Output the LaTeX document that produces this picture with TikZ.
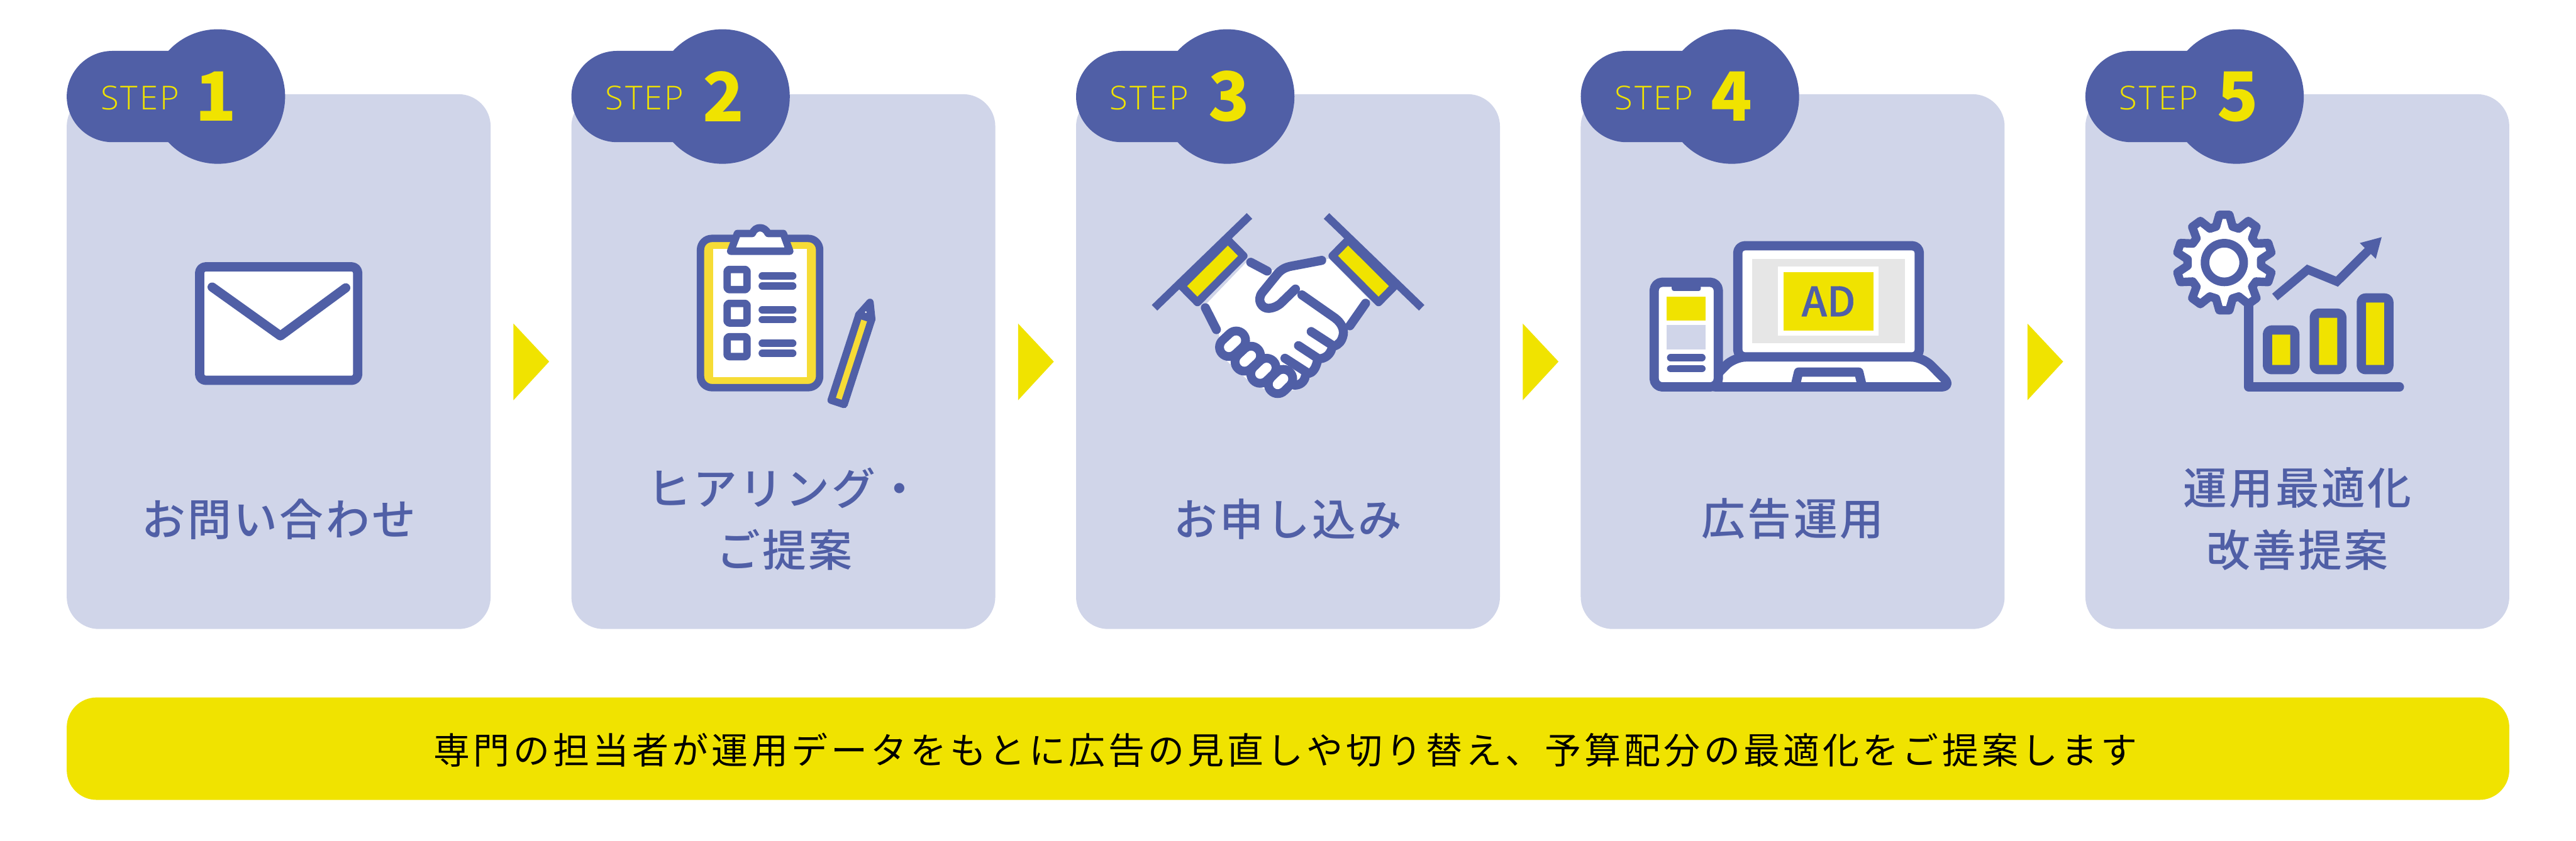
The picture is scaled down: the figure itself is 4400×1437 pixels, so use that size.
\documentclass[tikz,border=0pt]{standalone}
\usepackage{fontspec}
\setmainfont[LetterSpace=6]{Open Sans Light}
\newfontfamily\cjk[LetterSpace=5]{Noto Sans CJK JP Medium}
\newfontfamily\cjkbar[LetterSpace=9]{Noto Sans CJK JP}
\newfontfamily\cjknum{Noto Sans CJK JP}
\newfontfamily\cjkad[FakeBold=0.6]{Noto Sans CJK JP Medium}
\definecolor{stepblue}{HTML}{505FA6}
\definecolor{cardblue}{HTML}{D0D5E9}
\definecolor{stepyellow}{HTML}{F0E300}
\definecolor{clipyellow}{HTML}{F6DC36}
\definecolor{screengray}{HTML}{E6E6E6}
\tikzset{
	stepcard/.style={fill=cardblue,rounded corners=15.6pt},
	stepbadge/.style={fill=stepblue},
	steptext/.style={inner sep=0pt,text=stepyellow,font=\fontsize{16}{18}\selectfont},
	stepnum/.style={inner sep=0pt,text=stepyellow,font=\cjknum\bfseries\fontsize{33}{36}\selectfont},
	steplabel/.style={inner sep=0pt,align=center,text=stepblue,font=\cjk\fontsize{21.3}{30.2}\selectfont},
	nextmark/.style={fill=stepyellow},
	iconline/.style={draw=stepblue,line width=4.5pt,line join=round,line cap=round},
	handline/.style={draw=stepblue,line width=4.4pt,line join=round,line cap=round},
	listline/.style={draw=stepblue,line width=3.6pt,line cap=round},
}
\begin{document}
\begin{tikzpicture}[x=0.01cm,y=-0.01cm]
	\useasboundingbox (0,0) rectangle (4400,1437);
	\fill[white] (0,0) rectangle (4400,1437);

	\fill[stepcard] (114,161) rectangle (838,1075);
	\fill[stepcard] (976,161) rectangle (1700,1075);
	\fill[stepcard] (1838,161) rectangle (2562,1075);
	\fill[stepcard] (2700,161) rectangle (3424,1075);
	\fill[stepcard] (3562,161) rectangle (4286,1075);

	\fill[stepbadge,rounded corners=22.2pt] (114,87) rectangle (372,243);
	\fill[stepbadge,rounded corners=22.2pt] (976,87) rectangle (1234,243);
	\fill[stepbadge,rounded corners=22.2pt] (1838,87) rectangle (2096,243);
	\fill[stepbadge,rounded corners=22.2pt] (2700,87) rectangle (2958,243);
	\fill[stepbadge,rounded corners=22.2pt] (3562,87) rectangle (3820,243);
	\fill[stepbadge] (372,165) circle (115);
	\fill[stepbadge] (1234,165) circle (115);
	\fill[stepbadge] (2096,165) circle (115);
	\fill[stepbadge] (2958,165) circle (115);
	\fill[stepbadge] (3820,165) circle (115);

	\node[steptext] (step1) at (239,167) {STEP};
	\node[steptext] (step2) at (1101,167) {STEP};
	\node[steptext] (step3) at (1963,167) {STEP};
	\node[steptext] (step4) at (2825,167) {STEP};
	\node[steptext] (step5) at (3687,167) {STEP};
	\node[stepnum] (num1) at (369,165) {1};
	\node[stepnum] (num2) at (1236,165) {2};
	\node[stepnum] (num3) at (2099,165) {3};
	\node[stepnum] (num4) at (2958,165) {4};
	\node[stepnum] (num5) at (3822,165) {5};

	\node[steplabel] (label1) at (476,887) {お問い合わせ};
	\node[steplabel] (label2) at (1340,887) {ヒアリング・\\ご提案};
	\node[steplabel] (label3) at (2200,887) {お申し込み};
	\node[steplabel] (label4) at (3062,887) {広告運用};
	\node[steplabel] (label5) at (3924,887) {運用最適化\\改善提案};

	\fill[nextmark] (877,553) -- (938,618) -- (877,684) -- cycle;
	\fill[nextmark] (1739,553) -- (1800,618) -- (1739,684) -- cycle;
	\fill[nextmark] (2601,553) -- (2662,618) -- (2601,684) -- cycle;
	\fill[nextmark] (3463,553) -- (3524,618) -- (3463,684) -- cycle;

	\fill[stepyellow,rounded corners=14.5pt] (114,1192) rectangle (4286,1367);
	\node[inner sep=0pt,text=black,font=\cjkbar\fontsize{17.7}{22}\selectfont] (note) at (2196,1282) {専門の担当者が運用データをもとに広告の見直しや切り替え、予算配分の最適化をご提案します};

	\draw[iconline,fill=white,rounded corners=3pt] (341,456) rectangle (611,650);
	\draw[iconline] (362.4,490.7) -- (479,574) -- (590.5,492);

	\draw[iconline,line width=3.6pt,fill=clipyellow,rounded corners=5.5pt] (1196.5,407.5) rectangle (1400,662.5);
	\fill[white] (1218.3,425.7) rectangle (1378.3,645);
	\draw[iconline,line width=3.6pt,fill=white] (1248,429.3) -- (1259.5,399) -- (1285,399) .. controls (1290,386) and (1306,386) .. (1312,399) -- (1338,399) -- (1349,429.3) -- cycle;
	\draw[iconline,line width=3.6pt,fill=white,rounded corners=1pt] (1242,460.5) rectangle (1276,495);
	\draw[iconline,line width=3.6pt,fill=white,rounded corners=1pt] (1242,518.5) rectangle (1276,552);
	\draw[iconline,line width=3.6pt,fill=white,rounded corners=1pt] (1242,575.5) rectangle (1276,609.5);
	\draw[listline] (1302,471.7) -- (1354,471.7);
	\draw[listline] (1302,488.7) -- (1354,488.7);
	\draw[listline] (1302,529.3) -- (1354,529.3);
	\draw[listline] (1302,546.3) -- (1354,546.3);
	\draw[listline] (1302,586.7) -- (1354,586.7);
	\draw[listline] (1302,603.7) -- (1354,603.7);
	\draw[iconline,line width=3.6pt,fill=clipyellow] (1419.7,684) -- (1441.7,691.3) -- (1489,545.3) -- (1486,516.7) -- (1467,538) -- cycle;
	\fill[stepblue] (1467,538) -- (1489,545.3) -- (1486,516.7) -- cycle;
	\draw[iconline,line width=3.6pt] (1467,538) -- (1489,545.3);
	\fill[white] (1479,533.5) circle (1.6);

	\fill[white] (2130,447) -- (2168,463) -- (2200,457) -- (2259,445) -- (2270,442) -- (2339,512) -- (2299,557) -- (2294,573) -- (2278,600) -- (2257,620) -- (2237,647) -- (2216,665) -- (2182,673) -- (2140,657) -- (2113,633) -- (2085,607) -- (2082,570) -- (2058,522) -- cycle;
	\draw[iconline,line width=3.8pt,line cap=butt,fill=stepyellow] (2097.3,410) -- (2124.2,437.3) -- (2045.3,516.7) -- (2018,489) -- cycle;
	\draw[iconline,line width=3.8pt,line cap=butt,fill=stepyellow] (2302.7,410) -- (2275.8,437.3) -- (2354.7,516.7) -- (2382,489) -- cycle;
	\draw[iconline,line width=3.8pt,line cap=butt] (2134.2,369) -- (1972,526);
	\draw[iconline,line width=3.8pt,line cap=butt] (2265.7,369) -- (2428.3,526);
	\draw[handline] (2136.3,448.3) -- (2164.5,463.3);
	\draw[handline] (2058.8,526) -- (2077.7,563.3);
	\draw[handline] (2257.5,445) -- (2205,455) .. controls (2195,457) and (2188,461) .. (2182,468) -- (2156,500) .. controls (2146,513) and (2155,528) .. (2168,527) .. controls (2176,526) and (2183,523) .. (2189,517) -- (2212.7,494);
	\draw[handline] (2332.5,518.3) -- (2305.7,556.7);
	\draw[handline] (2223.7,504) -- (2279.9,543.3) .. controls (2290,551) and (2296,561) .. (2294.3,572) .. controls (2292,583) and (2287,589) .. (2278.1,591.7) -- (2239.6,566.7);
	\draw[handline] (2217.9,590.7) -- (2252.3,613.3) .. controls (2262,613) and (2270,608) .. (2274,598.3);
	\draw[handline] (2194.8,612.3) -- (2235,638.3) .. controls (2242,637) and (2247,630) .. (2249.9,618.3);
	\draw[handline] (2230,641.7) .. controls (2228,652) and (2222,658) .. (2211,658.3);
	\draw[draw=stepblue,line width=13.4pt,line cap=round] (2099,593.3) -- (2111.5,581.7);
	\draw[draw=stepblue,line width=13.4pt,line cap=round] (2125.6,618.3) -- (2137,607.7);
	\draw[draw=stepblue,line width=13.4pt,line cap=round] (2152.4,639) -- (2163.5,628.3);
	\draw[draw=stepblue,line width=13.4pt,line cap=round] (2182.4,656.7) -- (2192,647.3);
	\draw[draw=white,line width=4.8pt,line cap=round] (2099,593.3) -- (2111.5,581.7);
	\draw[draw=white,line width=4.8pt,line cap=round] (2125.6,618.3) -- (2137,607.7);
	\draw[draw=white,line width=4.8pt,line cap=round] (2152.4,639) -- (2163.5,628.3);
	\draw[draw=white,line width=4.8pt,line cap=round] (2182.4,656.7) -- (2192,647.3);

	\draw[iconline,fill=white,rounded corners=5.7pt] (2912,661.3) -- (2962,610) -- (3284,610) -- (3335,661.3) -- cycle;
	\draw[iconline,fill=white,rounded corners=3.5pt] (2968.2,610) -- (2968.2,420) -- (3278.3,420) -- (3278.3,610) -- cycle;
	\fill[screengray] (2993,442.7) rectangle (3253.5,587);
	\fill[white] (3037,456) rectangle (3209,573.7);
	\fill[stepyellow] (3046.4,465) rectangle (3200.3,565);
	\node[inner sep=0pt,text=stepblue,font=\cjkad\fontsize{19.8}{22}\selectfont] (adtext) at (3123.3,515) {AD};
	\draw[iconline] (3066,661.3) -- (3072,636) -- (3175,636) -- (3181,661.3);
	\draw[iconline,fill=white,rounded corners=4pt] (2825.4,482.3) rectangle (2935,661.3);
	\fill[stepblue,rounded corners=1pt] (2855.5,482) rectangle (2905,497.3);
	\fill[stepyellow] (2846.6,507) rectangle (2912.8,548.3);
	\fill[cardblue] (2846.6,555.7) rectangle (2912.8,597);
	\draw[listline] (2853.6,611.3) -- (2906.9,611.3);
	\draw[listline] (2853.6,630) -- (2906.9,630);

	\draw[iconline] (3841,515) -- (3841,661.3) -- (4098.3,661.3);
	\draw[iconline,fill=white,line width=4.1pt,shift={(3799.3,448.7)}] (84:82)
		\foreach \a in {90,126,162,198,234,270,306,342,378,414} {
			-- ({\a+6}:82) -- ({\a+13}:63) -- ({\a+23}:63) -- ({\a+30}:82)
		} -- cycle;
	\draw[iconline,line width=4.2pt,fill=white] (3799.3,448.7) circle (33);
	\draw[iconline,fill=stepyellow,rounded corners=2pt] (3873,564) rectangle (3919.7,631.7);
	\draw[iconline,fill=stepyellow,rounded corners=2pt] (3953,535.3) rectangle (4000,631.7);
	\draw[iconline,fill=stepyellow,rounded corners=2pt] (4033.3,509.3) rectangle (4080.3,631.7);
	\draw[stepblue,line width=4.2pt,line join=miter] (3885.7,507.7) -- (3941.7,460.7) -- (3991.7,481.3) -- (4050,423.3);
	\fill[stepblue] (4068,405.3) -- (4030.7,415.3) -- (4058,442.3) -- cycle;
\end{tikzpicture}
\end{document}
